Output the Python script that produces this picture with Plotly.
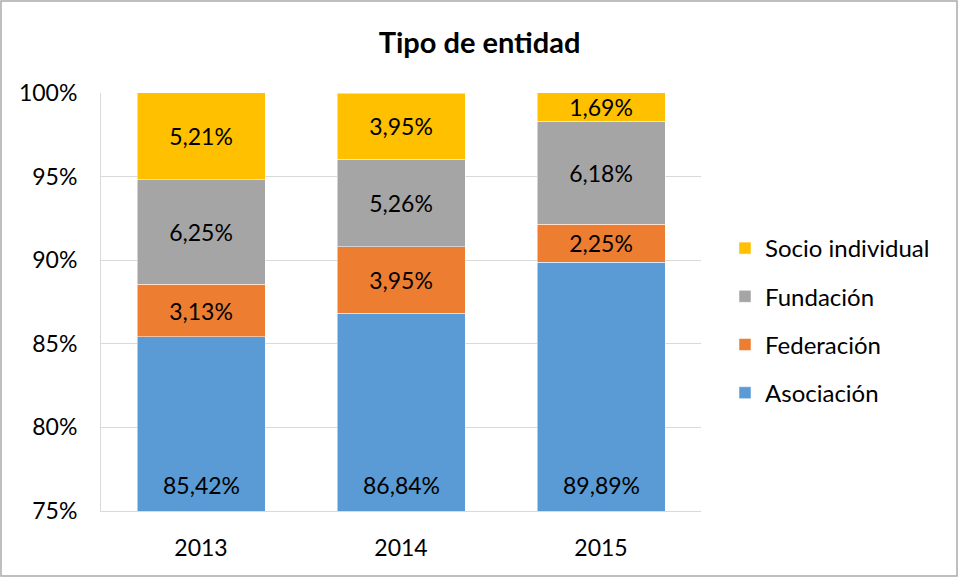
import plotly.graph_objects as go

years = ["2013", "2014", "2015"]
asociacion = [85.42, 86.84, 89.89]
federacion = [3.13, 3.95, 2.25]
fundacion = [6.25, 5.26, 6.18]
socio = [5.21, 3.95, 1.69]

series = [
    ("Asociación", asociacion, "#5B9BD5"),
    ("Federación", federacion, "#ED7D31"),
    ("Fundación", fundacion, "#A5A5A5"),
    ("Socio individual", socio, "#FFC000"),
]

FONT = "Lato, Carlito, Calibri, 'Open Sans', sans-serif"
FS = 23

fig = go.Figure()
for i, (name, vals, col) in enumerate(series):
    if i > 0:
        kw = dict(texttemplate="%{y:.2f}%", textposition="inside",
                  insidetextanchor="middle", textangle=0)
    else:
        kw = dict(textposition="none")
    fig.add_trace(go.Bar(
        x=years, y=vals, name=name,
        marker=dict(color=col, line=dict(color="white", width=0.5)),
        textfont=dict(family=FONT, size=FS, color="#000000"),
        legendgroup=name, legendrank=len(series) - i,
        **kw,
    ))

# labels for the base series (bar is clipped by the axis range) placed at the axis bottom
for idx, v in enumerate(asociacion):
    fig.add_annotation(x=idx, y=0, xref="x", yref="paper", yanchor="bottom",
                       yshift=10, showarrow=False,
                       text=f"{v:.2f}%".replace(".", ","),
                       font=dict(family=FONT, size=FS, color="#000000"))

W, H = 959, 578
L, R, T, B = 101, 258, 93, 67
pw, ph = W - L - R, H - T - B

fig.update_layout(
    width=W, height=H,
    barmode="stack", bargap=0.36,
    separators=",.",
    paper_bgcolor="white", plot_bgcolor="white",
    margin=dict(l=L, r=R, t=T, b=B),
    font=dict(family=FONT, size=FS, color="#000000"),
    title=dict(text="<b>Tipo de entidad</b>", x=0.5, xref="container", xanchor="center",
               y=(H - 43) / H, yanchor="middle", font=dict(size=29, family=FONT)),
    xaxis=dict(type="category", range=[-0.5, len(years) - 0.5], showgrid=False,
               showline=True, linecolor="#D9D9D9",
               ticks="outside", ticklen=16, tickcolor="rgba(0,0,0,0)",
               tickfont=dict(size=FS)),
    yaxis=dict(range=[75, 100], dtick=5, ticksuffix="%", showgrid=True,
               gridcolor="#D9D9D9", gridwidth=1, zeroline=False,
               showline=True, linecolor="#D9D9D9",
               ticks="outside", ticklen=18, tickcolor="rgba(0,0,0,0)",
               tickfont=dict(size=FS)),
    legend=dict(x=(725 - L) / pw, y=(H - B - 226) / ph, xanchor="left", yanchor="top",
                traceorder="grouped", tracegroupgap=14,
                font=dict(size=24), itemwidth=30),
    showlegend=True,
    uniformtext=dict(minsize=FS, mode="show"),
)

fig.add_shape(type="rect", xref="paper", yref="paper",
              x0=(1 - L) / pw, x1=(W - 2 - L) / pw,
              y0=(H - B - (H - 2)) / ph, y1=(H - B - 1) / ph,
              line=dict(color="#ABABAB", width=1.5), fillcolor="rgba(0,0,0,0)", layer="below")

fig.write_html("out.html", post_script="document.body.style.margin='0';",
               config={"displayModeBar": False})
